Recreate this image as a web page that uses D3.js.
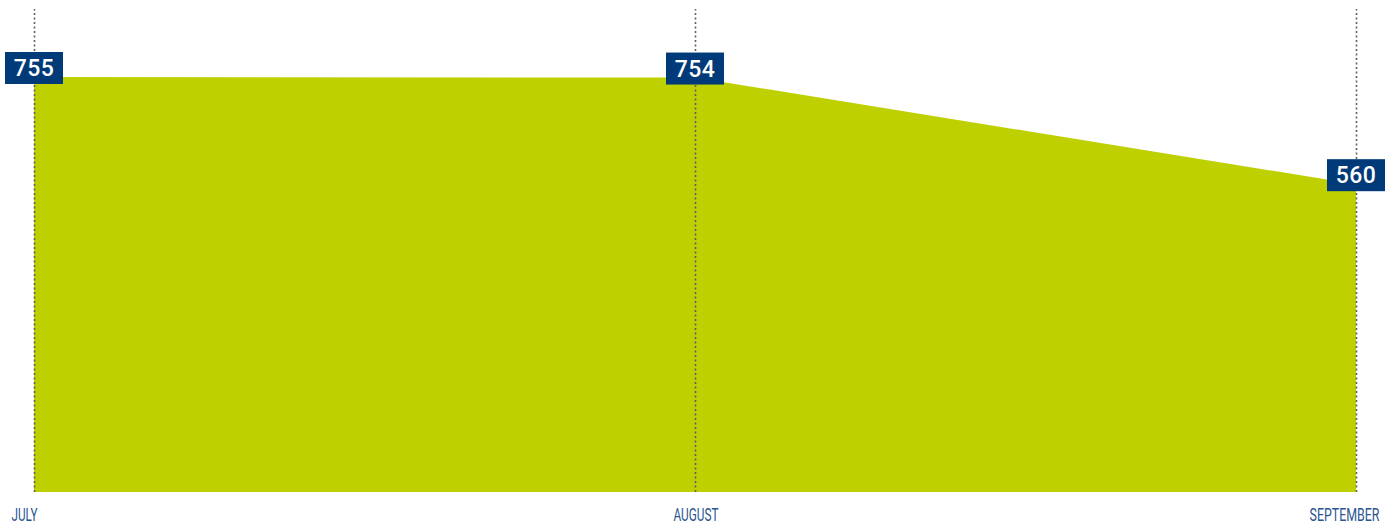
<!DOCTYPE html>
<html>
<head>
<meta charset="utf-8">
<script src="https://cdn.jsdelivr.net/npm/d3@7"></script>
<style>
  html, body { margin: 0; padding: 0; background: #ffffff; }
  svg { display: block; }
</style>
</head>
<body>
<svg id="chart" width="1394" height="525"></svg>
<script>
const months = ["JULY", "AUGUST", "SEPTEMBER"];
const values = [755, 754, 560];
const valueLabels = ["755", "754", "560"];

(function () {
const mLeft = 34, mRight = 1356, mTop = 77, mBottom = 492, gridTop = 9;

const svg = d3.select("#chart");

const x = d3.scalePoint().domain(months).range([mLeft, mRight]);
const y = d3.scaleLinear().domain([0, d3.max(values)]).range([mBottom, mTop]);

const data = months.map((m, i) => ({ m, v: values[i], label: valueLabels[i] }));

// area
const area = d3.area()
  .x(d => x(d.m))
  .y0(y(0))
  .y1(d => y(d.v));

svg.append("path")
  .datum(data)
  .attr("d", area)
  .attr("fill", "#bfd000");

// dotted vertical gridlines
const grid = svg.append("g")
  .attr("transform", `translate(0,${mBottom})`)
  .call(d3.axisBottom(x).tickSize(-(mBottom - gridTop)).tickFormat(""));
grid.select(".domain").remove();
grid.selectAll(".tick line")
  .attr("stroke", "#5f5f5f")
  .attr("stroke-width", 1.6)
  .attr("stroke-dasharray", "2,2.5");

// x axis labels (condensed look via horizontal scaling)
const ax = svg.append("g")
  .attr("transform", `translate(0,${mBottom})`)
  .call(d3.axisBottom(x).tickSize(0).tickPadding(0));
ax.select(".domain").remove();
const labelBox = { JULY: [11, 26], AUGUST: [673, 45], SEPTEMBER: [1309, 70] };
ax.selectAll(".tick text")
  .attr("dy", 0)
  .attr("fill", "#2b5590")
  .attr("font-family", "Roboto, 'DejaVu Sans', sans-serif")
  .attr("font-size", 17.5)
  .attr("text-anchor", "middle")
  .each(function(d) {
    const t = d3.select(this);
    t.attr("x", 0).attr("y", 0);
    const natural = this.getComputedTextLength();
    const [x0, w] = labelBox[d];
    const cx = x0 + w / 2 - x(d);
    const s = w / natural;
    t.attr("transform", `translate(${cx},29) scale(${s},1)`);
  });

// value label boxes
const boxW = 58, boxH = 32;
const lab = svg.append("g").selectAll("g")
  .data(data)
  .join("g")
  .attr("transform", d => `translate(${x(d.m)},${y(d.v)})`);

lab.append("rect")
  .attr("x", -boxW / 2)
  .attr("y", -25)
  .attr("width", boxW)
  .attr("height", boxH)
  .attr("fill", "#003a78");

lab.append("text")
  .attr("x", 0)
  .attr("y", -1)
  .attr("text-anchor", "middle")
  .attr("fill", "#ffffff")
  .attr("font-family", "Roboto, 'DejaVu Sans', sans-serif")
  .attr("font-weight", 500)
  .attr("font-size", 23)
  .attr("letter-spacing", 0.5)
  .text(d => d.label);
})();
</script>
</body>
</html>
